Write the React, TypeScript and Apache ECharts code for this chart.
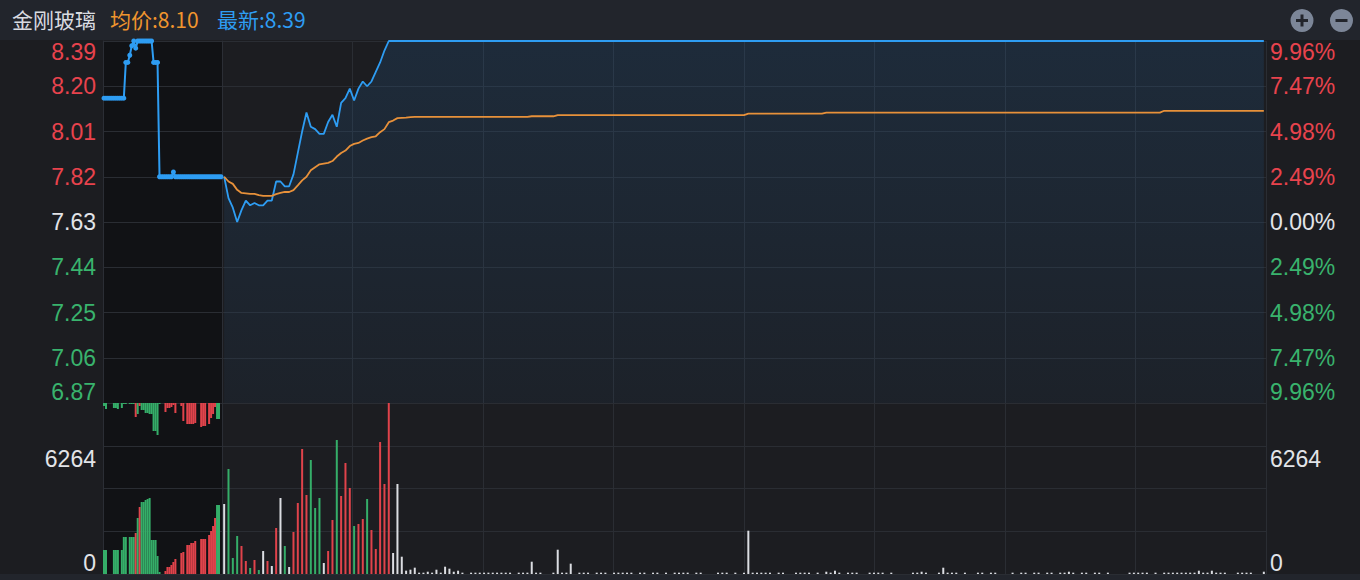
import React, { useEffect, useRef } from 'react';
import * as echarts from 'echarts';

// ---------- data ----------
const STOCK_NAME = '金刚玻璃';
const PRE_CLOSE = 7.63;
const PRICE_MIN = 6.87;
const PRICE_MAX = 8.39;
const PRICE_STEP = 0.19;
const VOL_MAX = 8352;
const VOL_STEP = 2088;
const VOL_LABELS = [0, 6264];

// call auction 9:15:00 - 9:24:50, one sample every 10 s
const preTimes: string[] = [];
for (let s = 0; s < 60; s++) {
  const m = 15 + Math.floor(s / 6);
  const sec = (s % 6) * 10;
  preTimes.push(`09:${String(m).padStart(2, '0')}:${String(sec).padStart(2, '0')}`);
}

const prePrice = [
  8.15, 8.15, 8.15, 8.15, 8.15, 8.15, 8.15, 8.15, 8.15, 8.15,
  8.15, 8.30, 8.30, 8.33, 8.37, 8.39, 8.36, 8.39, 8.39, 8.39,
  8.39, 8.39, 8.39, 8.39, 8.39, 8.30, 8.30, 8.30, 7.82, 7.82,
  7.82, 7.82, 7.82, 7.82, 7.82, 7.84, 7.82, 7.82, 7.82, 7.82,
  7.82, 7.82, 7.82, 7.82, 7.82, 7.82, 7.82, 7.82, 7.82, 7.82,
  7.82, 7.82, 7.82, 7.82, 7.82, 7.82, 7.82, 7.82, 7.82, 7.82,
];

// matched volume (drawn from bottom)
const preVolume = [
  1172, 1172, 0, 0, 0, 1172, 1172, 1172, 0, 1172,
  1807, 1807, 0, 1807, 1807, 1807, 2002, 2735, 3272, 3516,
  3516, 3614, 3663, 3712, 1661, 1661, 1661, 879, 98, 0,
  0, 147, 342, 342, 440, 586, 733, 0, 0, 1026,
  1074, 0, 1416, 1416, 1514, 1514, 1612, 0, 0, 1709,
  1709, 1709, 0, 1905, 2100, 2344, 2735, 3370, 3370, 0,
];

// unmatched volume (drawn from top)
const preUnmatched = [
  147, 293, 0, 0, 0, 244, 244, 293, 0, 244,
  49, 49, 0, 49, 49, 49, 684, 537, 147, 342,
  342, 488, 488, 537, 537, 1368, 1368, 1563, 49, 0,
  0, 440, 244, 244, 195, 98, 488, 0, 0, 147,
  879, 0, 1026, 1026, 1026, 1026, 977, 0, 0, 1172,
  1123, 1123, 0, 1026, 733, 537, 195, 782, 782, 0,
];

// 1 = buy side (red), -1 = sell side (green)
const preDirection = [
  -1, -1, -1, -1, -1, -1, -1, -1, -1, -1,
  -1, -1, -1, -1, -1, -1, 1, -1, 1, -1,
  -1, -1, -1, -1, -1, -1, -1, -1, -1, 1,
  1, 1, 1, 1, 1, 1, 1, 1, 1, 1,
  1, 1, 1, 1, 1, 1, 1, 1, 1, 1,
  1, 1, 1, 1, 1, 1, 1, -1, -1, -1,
];

// trading minutes 09:30-11:30, 13:01-15:00
const minutes: string[] = [];
for (let t = 9 * 60 + 30; t <= 11 * 60 + 30; t++) minutes.push(`${String(Math.floor(t / 60)).padStart(2, '0')}:${String(t % 60).padStart(2, '0')}`);
for (let t = 13 * 60 + 1; t <= 15 * 60; t++) minutes.push(`${String(Math.floor(t / 60)).padStart(2, '0')}:${String(t % 60).padStart(2, '0')}`);

const price = [
  7.82, 7.73, 7.69, 7.63, 7.68, 7.72, 7.70, 7.71, 7.70, 7.70,
  7.72, 7.72, 7.80, 7.80, 7.78, 7.78, 7.83, 7.92, 8.01, 8.09,
  8.03, 8.02, 8.00, 8.00, 8.05, 8.08, 8.03, 8.13, 8.15, 8.19,
  8.14, 8.19, 8.22, 8.20, 8.22, 8.26, 8.30, 8.35, 8.39, 8.39,
  8.39, 8.39, 8.39, 8.39, 8.39, 8.39, 8.39, 8.39, 8.39, 8.39,
  8.39, 8.39, 8.39, 8.39, 8.39, 8.39, 8.39, 8.39, 8.39, 8.39,
  8.39, 8.39, 8.39, 8.39, 8.39, 8.39, 8.39, 8.39, 8.39, 8.39,
  8.39, 8.39, 8.39, 8.39, 8.39, 8.39, 8.39, 8.39, 8.39, 8.39,
  8.39, 8.39, 8.39, 8.39, 8.39, 8.39, 8.39, 8.39, 8.39, 8.39,
  8.39, 8.39, 8.39, 8.39, 8.39, 8.39, 8.39, 8.39, 8.39, 8.39,
  8.39, 8.39, 8.39, 8.39, 8.39, 8.39, 8.39, 8.39, 8.39, 8.39,
  8.39, 8.39, 8.39, 8.39, 8.39, 8.39, 8.39, 8.39, 8.39, 8.39,
  8.39, 8.39, 8.39, 8.39, 8.39, 8.39, 8.39, 8.39, 8.39, 8.39,
  8.39, 8.39, 8.39, 8.39, 8.39, 8.39, 8.39, 8.39, 8.39, 8.39,
  8.39, 8.39, 8.39, 8.39, 8.39, 8.39, 8.39, 8.39, 8.39, 8.39,
  8.39, 8.39, 8.39, 8.39, 8.39, 8.39, 8.39, 8.39, 8.39, 8.39,
  8.39, 8.39, 8.39, 8.39, 8.39, 8.39, 8.39, 8.39, 8.39, 8.39,
  8.39, 8.39, 8.39, 8.39, 8.39, 8.39, 8.39, 8.39, 8.39, 8.39,
  8.39, 8.39, 8.39, 8.39, 8.39, 8.39, 8.39, 8.39, 8.39, 8.39,
  8.39, 8.39, 8.39, 8.39, 8.39, 8.39, 8.39, 8.39, 8.39, 8.39,
  8.39, 8.39, 8.39, 8.39, 8.39, 8.39, 8.39, 8.39, 8.39, 8.39,
  8.39, 8.39, 8.39, 8.39, 8.39, 8.39, 8.39, 8.39, 8.39, 8.39,
  8.39, 8.39, 8.39, 8.39, 8.39, 8.39, 8.39, 8.39, 8.39, 8.39,
  8.39, 8.39, 8.39, 8.39, 8.39, 8.39, 8.39, 8.39, 8.39, 8.39,
  8.39,
];

const avgPrice = [
  7.82, 7.80, 7.79, 7.765, 7.752, 7.75, 7.748, 7.748, 7.743, 7.74,
  7.74, 7.74, 7.747, 7.752, 7.756, 7.756, 7.764, 7.784, 7.805, 7.82,
  7.847, 7.86, 7.872, 7.875, 7.878, 7.886, 7.905, 7.92, 7.93, 7.949,
  7.958, 7.962, 7.972, 7.98, 7.986, 7.99, 8.007, 8.02, 8.049, 8.056,
  8.066, 8.067, 8.068, 8.07, 8.071, 8.071, 8.071, 8.071, 8.071, 8.071,
  8.071, 8.071, 8.071, 8.071, 8.071, 8.071, 8.071, 8.071, 8.071, 8.071,
  8.071, 8.071, 8.071, 8.071, 8.071, 8.071, 8.071, 8.071, 8.071, 8.071,
  8.071, 8.074, 8.074, 8.074, 8.074, 8.074, 8.074, 8.079, 8.079, 8.079,
  8.079, 8.079, 8.079, 8.079, 8.079, 8.079, 8.079, 8.079, 8.079, 8.079,
  8.079, 8.079, 8.079, 8.079, 8.079, 8.079, 8.079, 8.079, 8.079, 8.079,
  8.079, 8.079, 8.079, 8.079, 8.079, 8.079, 8.079, 8.079, 8.079, 8.079,
  8.079, 8.079, 8.079, 8.079, 8.079, 8.079, 8.079, 8.079, 8.079, 8.079,
  8.079, 8.085, 8.085, 8.085, 8.085, 8.085, 8.085, 8.085, 8.085, 8.085,
  8.085, 8.085, 8.085, 8.085, 8.085, 8.085, 8.085, 8.085, 8.085, 8.089,
  8.089, 8.089, 8.089, 8.089, 8.089, 8.089, 8.089, 8.089, 8.089, 8.089,
  8.089, 8.089, 8.089, 8.089, 8.089, 8.089, 8.089, 8.089, 8.089, 8.089,
  8.089, 8.089, 8.089, 8.089, 8.089, 8.089, 8.089, 8.089, 8.089, 8.089,
  8.089, 8.089, 8.089, 8.089, 8.089, 8.089, 8.089, 8.089, 8.089, 8.089,
  8.089, 8.089, 8.089, 8.089, 8.089, 8.089, 8.089, 8.089, 8.089, 8.089,
  8.089, 8.089, 8.089, 8.089, 8.089, 8.089, 8.089, 8.089, 8.089, 8.089,
  8.089, 8.089, 8.089, 8.089, 8.089, 8.089, 8.089, 8.089, 8.089, 8.089,
  8.089, 8.089, 8.089, 8.089, 8.089, 8.089, 8.089, 8.097, 8.097, 8.097,
  8.097, 8.097, 8.097, 8.097, 8.097, 8.097, 8.097, 8.097, 8.097, 8.097,
  8.097, 8.097, 8.097, 8.097, 8.097, 8.097, 8.097, 8.097, 8.097, 8.097,
  8.097,
];

const volume = [
  3419, 5128, 781, 1856, 1367, 635, 293, 684, 195, 1123,
  635, 391, 2247, 3712, 1367, 342, 2051, 3468, 6105, 3858,
  5568, 3223, 3712, 537, 1123, 2637, 6545, 3810, 5421, 4200,
  2344, 2442, 2686, 3663, 2149, 1221, 6447, 4396, 8352, 1026,
  4396, 845, 163, 211, 309, 65, 65, 112, 65, 210,
  65, 357, 260, 112, 161, 65, 0, 65, 65, 65,
  65, 65, 65, 65, 65, 65, 65, 0, 65, 65,
  65, 601, 65, 65, 0, 0, 65, 1187, 65, 65,
  505, 0, 65, 65, 65, 0, 65, 65, 65, 0,
  65, 65, 65, 65, 65, 0, 65, 65, 0, 65,
  65, 0, 65, 0, 65, 65, 65, 65, 0, 65,
  65, 0, 0, 0, 65, 65, 65, 0, 65, 0,
  65, 2115, 65, 65, 65, 65, 65, 0, 65, 65,
  0, 0, 65, 65, 65, 65, 0, 65, 0, 112,
  65, 161, 65, 0, 65, 65, 65, 0, 0, 65,
  65, 65, 65, 0, 65, 0, 0, 0, 0, 65,
  65, 112, 65, 0, 0, 65, 308, 65, 65, 65,
  0, 65, 0, 0, 65, 65, 0, 65, 65, 0,
  0, 0, 65, 0, 65, 65, 0, 65, 65, 0,
  65, 65, 0, 65, 65, 112, 65, 0, 65, 65,
  0, 65, 65, 0, 65, 0, 0, 0, 0, 65,
  65, 65, 65, 65, 0, 65, 0, 65, 65, 65,
  65, 65, 65, 65, 65, 161, 65, 65, 161, 65,
  65, 65, 0, 0, 65, 65, 65, 65, 0, 0,
  112,
];

// ---------- styles ----------
const FONT = "'Liberation Sans', Arial, sans-serif";
const CJK = "'Noto Sans CJK SC', sans-serif";
const BG = '#1c1d21';
const BG_DARK = '#111215';
const HEADER = '#22252c';
const GRID_LINE = '#2a2d33';
const AXIS_LINE = '#2b2e35';
const BLUE = '#2e9df3';
const ORANGE = '#e8913a';
const RED = '#e8434d';
const GREEN = '#39b36d';
const NEUTRAL = '#e2e4e8';
const RED_BAR = '#e0434b';
const GREEN_BAR = '#35ae69';
const WHITE_BAR = '#dbdde2';
const LABEL_SIZE = 23;

const near = (a: number, b: number) => Math.abs(a - b) < 1e-6;

const priceTag = (v: number) => {
  if (v > PRE_CLOSE + 1e-6) return near(v, PRICE_MAX) ? 'rt' : 'r';
  if (v < PRE_CLOSE - 1e-6) return near(v, PRICE_MIN) ? 'gb' : 'g';
  return 'n';
};

const baseText = { fontSize: LABEL_SIZE, fontFamily: FONT };
const priceRich = {
  rt: { ...baseText, color: RED, padding: [22, 0, 0, 0] },
  r: { ...baseText, color: RED },
  n: { ...baseText, color: NEUTRAL },
  g: { ...baseText, color: GREEN },
  gb: { ...baseText, color: GREEN, padding: [0, 0, 22, 0] },
};
const volRich = {
  m: { ...baseText, color: NEUTRAL, padding: [26, 0, 0, 0] },
  z: { ...baseText, color: NEUTRAL, padding: [0, 0, 22, 0] },
};
const volFormatter = (v: number) => {
  if (near(v, VOL_LABELS[1])) return `{m|${VOL_LABELS[1]}}`;
  if (near(v, VOL_LABELS[0])) return `{z|${VOL_LABELS[0]}}`;
  return '';
};

const lastPre = prePrice[prePrice.length - 1];
const volColor = (i: number) => {
  const prev = i === 0 ? lastPre : price[i - 1];
  if (price[i] > prev + 1e-9) return RED_BAR;
  if (price[i] < prev - 1e-9) return GREEN_BAR;
  return WHITE_BAR;
};

export default function App() {
  const ref = useRef<HTMLDivElement>(null);

  useEffect(() => {
    document.body.style.margin = '0';
    const chart = echarts.init(ref.current!, null, { renderer: 'svg' });

    const hiddenCat = (grid: number, data: string[], split?: (i: number) => boolean) => ({
      type: 'category',
      gridIndex: grid,
      data,
      boundaryGap: true,
      show: true,
      axisLine: { show: false },
      axisTick: { show: false },
      axisLabel: { show: false },
      splitLine: split
        ? { show: true, interval: (i: number) => split(i), lineStyle: { color: GRID_LINE, width: 1 } }
        : { show: false },
    });

    const option: any = {
      animation: false,
      backgroundColor: BG,
      grid: [
        { left: 103, top: 41, width: 119, height: 362, show: true, backgroundColor: BG_DARK, borderWidth: 0, outerBoundsMode: 'none' },
        { left: 222, top: 41, width: 1044, height: 362, show: false, outerBoundsMode: 'none' },
        { left: 103, top: 403, width: 119, height: 171, show: true, backgroundColor: BG_DARK, borderWidth: 0, outerBoundsMode: 'none' },
        { left: 222, top: 403, width: 1044, height: 171, show: false, outerBoundsMode: 'none' },
      ],
      xAxis: [
        hiddenCat(0, preTimes, (i) => i === 33),
        hiddenCat(1, minutes),
        hiddenCat(2, preTimes, (i) => i === 33),
        hiddenCat(3, minutes),
        {
          type: 'value', gridIndex: 1, min: 0, max: 240, interval: 30, position: 'top',
          axisLine: { show: false }, axisTick: { show: false }, axisLabel: { show: false },
          splitLine: { show: true, lineStyle: { color: GRID_LINE, width: 1 } },
        },
        {
          type: 'value', gridIndex: 3, min: 0, max: 240, interval: 30, position: 'top',
          axisLine: { show: false }, axisTick: { show: false }, axisLabel: { show: false },
          splitLine: { show: true, lineStyle: { color: GRID_LINE, width: 1 } },
        },
      ],
      yAxis: [
        {
          type: 'value', gridIndex: 0, position: 'left', min: PRICE_MIN, max: PRICE_MAX, interval: PRICE_STEP,
          axisLine: { show: true, lineStyle: { color: AXIS_LINE } },
          axisTick: { show: false },
          axisLabel: {
            margin: 7, showMinLabel: true, showMaxLabel: true,
            formatter: (v: number) => `{${priceTag(v)}|${v.toFixed(2)}}`,
            rich: priceRich,
          },
          splitLine: { show: true, lineStyle: { color: GRID_LINE, width: 1 } },
        },
        {
          type: 'value', gridIndex: 1, position: 'right', min: PRICE_MIN, max: PRICE_MAX, interval: PRICE_STEP,
          axisLine: { show: true, lineStyle: { color: AXIS_LINE } },
          axisTick: { show: false },
          axisLabel: {
            margin: 4, showMinLabel: true, showMaxLabel: true,
            formatter: (v: number) =>
              `{${priceTag(v)}|${Math.abs(((v - PRE_CLOSE) / PRE_CLOSE) * 100).toFixed(2)}%}`,
            rich: priceRich,
          },
          splitLine: { show: true, lineStyle: { color: GRID_LINE, width: 1 } },
        },
        {
          type: 'value', gridIndex: 2, position: 'left', min: 0, max: VOL_MAX, interval: VOL_STEP,
          axisLine: { show: true, lineStyle: { color: AXIS_LINE } },
          axisTick: { show: false },
          axisLabel: { margin: 7, showMinLabel: true, showMaxLabel: true, formatter: volFormatter, rich: volRich },
          splitLine: { show: true, lineStyle: { color: GRID_LINE, width: 1 } },
        },
        {
          type: 'value', gridIndex: 2, min: 0, max: VOL_MAX, inverse: true, show: false,
        },
        {
          type: 'value', gridIndex: 3, position: 'right', min: 0, max: VOL_MAX, interval: VOL_STEP,
          axisLine: { show: true, lineStyle: { color: AXIS_LINE } },
          axisTick: { show: false },
          axisLabel: { margin: 4, showMinLabel: true, showMaxLabel: true, formatter: volFormatter, rich: volRich },
          splitLine: { show: true, lineStyle: { color: GRID_LINE, width: 1 } },
        },
      ],
      series: [
        {
          name: '集合竞价', type: 'line', xAxisIndex: 0, yAxisIndex: 0, data: prePrice,
          symbol: 'circle', symbolSize: 5, showSymbol: true, showAllSymbol: true, clip: false,
          lineStyle: { color: BLUE, width: 2 }, itemStyle: { color: BLUE }, z: 4, silent: true,
        },
        {
          name: '价格', type: 'line', xAxisIndex: 1, yAxisIndex: 1, data: price,
          showSymbol: false, clip: false, z: 4, silent: true,
          lineStyle: { color: BLUE, width: 1.8 },
          areaStyle: {
            origin: 'start',
            color: new echarts.graphic.LinearGradient(0, 0, 0, 1, [
              { offset: 0, color: 'rgba(40,125,205,0.21)' },
              { offset: 1, color: 'rgba(40,125,205,0.07)' },
            ]),
          },
        },
        {
          name: '均价', type: 'line', xAxisIndex: 1, yAxisIndex: 1, data: avgPrice,
          showSymbol: false, clip: false, z: 5, silent: true,
          lineStyle: { color: ORANGE, width: 1.8 },
        },
        {
          name: '竞价成交量', type: 'bar', xAxisIndex: 2, yAxisIndex: 2, barWidth: 2, barGap: '-100%', silent: true,
          data: preVolume.map((v, i) => ({ value: v, itemStyle: { color: preDirection[i] > 0 ? RED_BAR : GREEN_BAR } })),
        },
        {
          name: '未匹配量', type: 'bar', xAxisIndex: 2, yAxisIndex: 3, barWidth: 2, barGap: '-100%', silent: true,
          data: preUnmatched.map((v, i) => ({ value: v, itemStyle: { color: preDirection[i] > 0 ? RED_BAR : GREEN_BAR } })),
        },
        {
          name: '成交量', type: 'bar', xAxisIndex: 3, yAxisIndex: 4, barWidth: 2, silent: true,
          data: volume.map((v, i) => ({ value: v, itemStyle: { color: volColor(i) } })),
        },
      ],
      graphic: [
        { type: 'rect', shape: { x: 0, y: 0, width: 1360, height: 40 }, style: { fill: HEADER }, silent: true },
        { type: 'rect', shape: { x: 0, y: 574, width: 1360, height: 6 }, style: { fill: HEADER }, silent: true },
        {
          type: 'text', x: 12, y: 19,
          style: { text: STOCK_NAME, fill: '#d9dbe0', fontSize: 21, fontFamily: CJK, verticalAlign: 'middle' },
        },
        {
          type: 'text', x: 110, y: 19,
          style: { text: `均价:${avgPrice[avgPrice.length - 1].toFixed(2)}`, fill: '#f0952e', fontSize: 21, fontFamily: CJK, verticalAlign: 'middle' },
        },
        {
          type: 'text', x: 217, y: 19,
          style: { text: `最新:${price[price.length - 1].toFixed(2)}`, fill: BLUE, fontSize: 21, fontFamily: CJK, verticalAlign: 'middle' },
        },
        { type: 'circle', shape: { cx: 1302, cy: 20.5, r: 11.5 }, style: { fill: '#7c8698' } },
        { type: 'rect', shape: { x: 1296, y: 19, width: 12, height: 3 }, style: { fill: HEADER } },
        { type: 'rect', shape: { x: 1300.5, y: 14.5, width: 3, height: 12 }, style: { fill: HEADER } },
        { type: 'circle', shape: { cx: 1341.5, cy: 20.5, r: 11.5 }, style: { fill: '#7c8698' } },
        { type: 'rect', shape: { x: 1335.5, y: 19, width: 12, height: 3 }, style: { fill: HEADER } },
      ],
    };

    chart.setOption(option);
    return () => chart.dispose();
  }, []);

  return <div ref={ref} style={{ width: 1360, height: 580 }} />;
}
